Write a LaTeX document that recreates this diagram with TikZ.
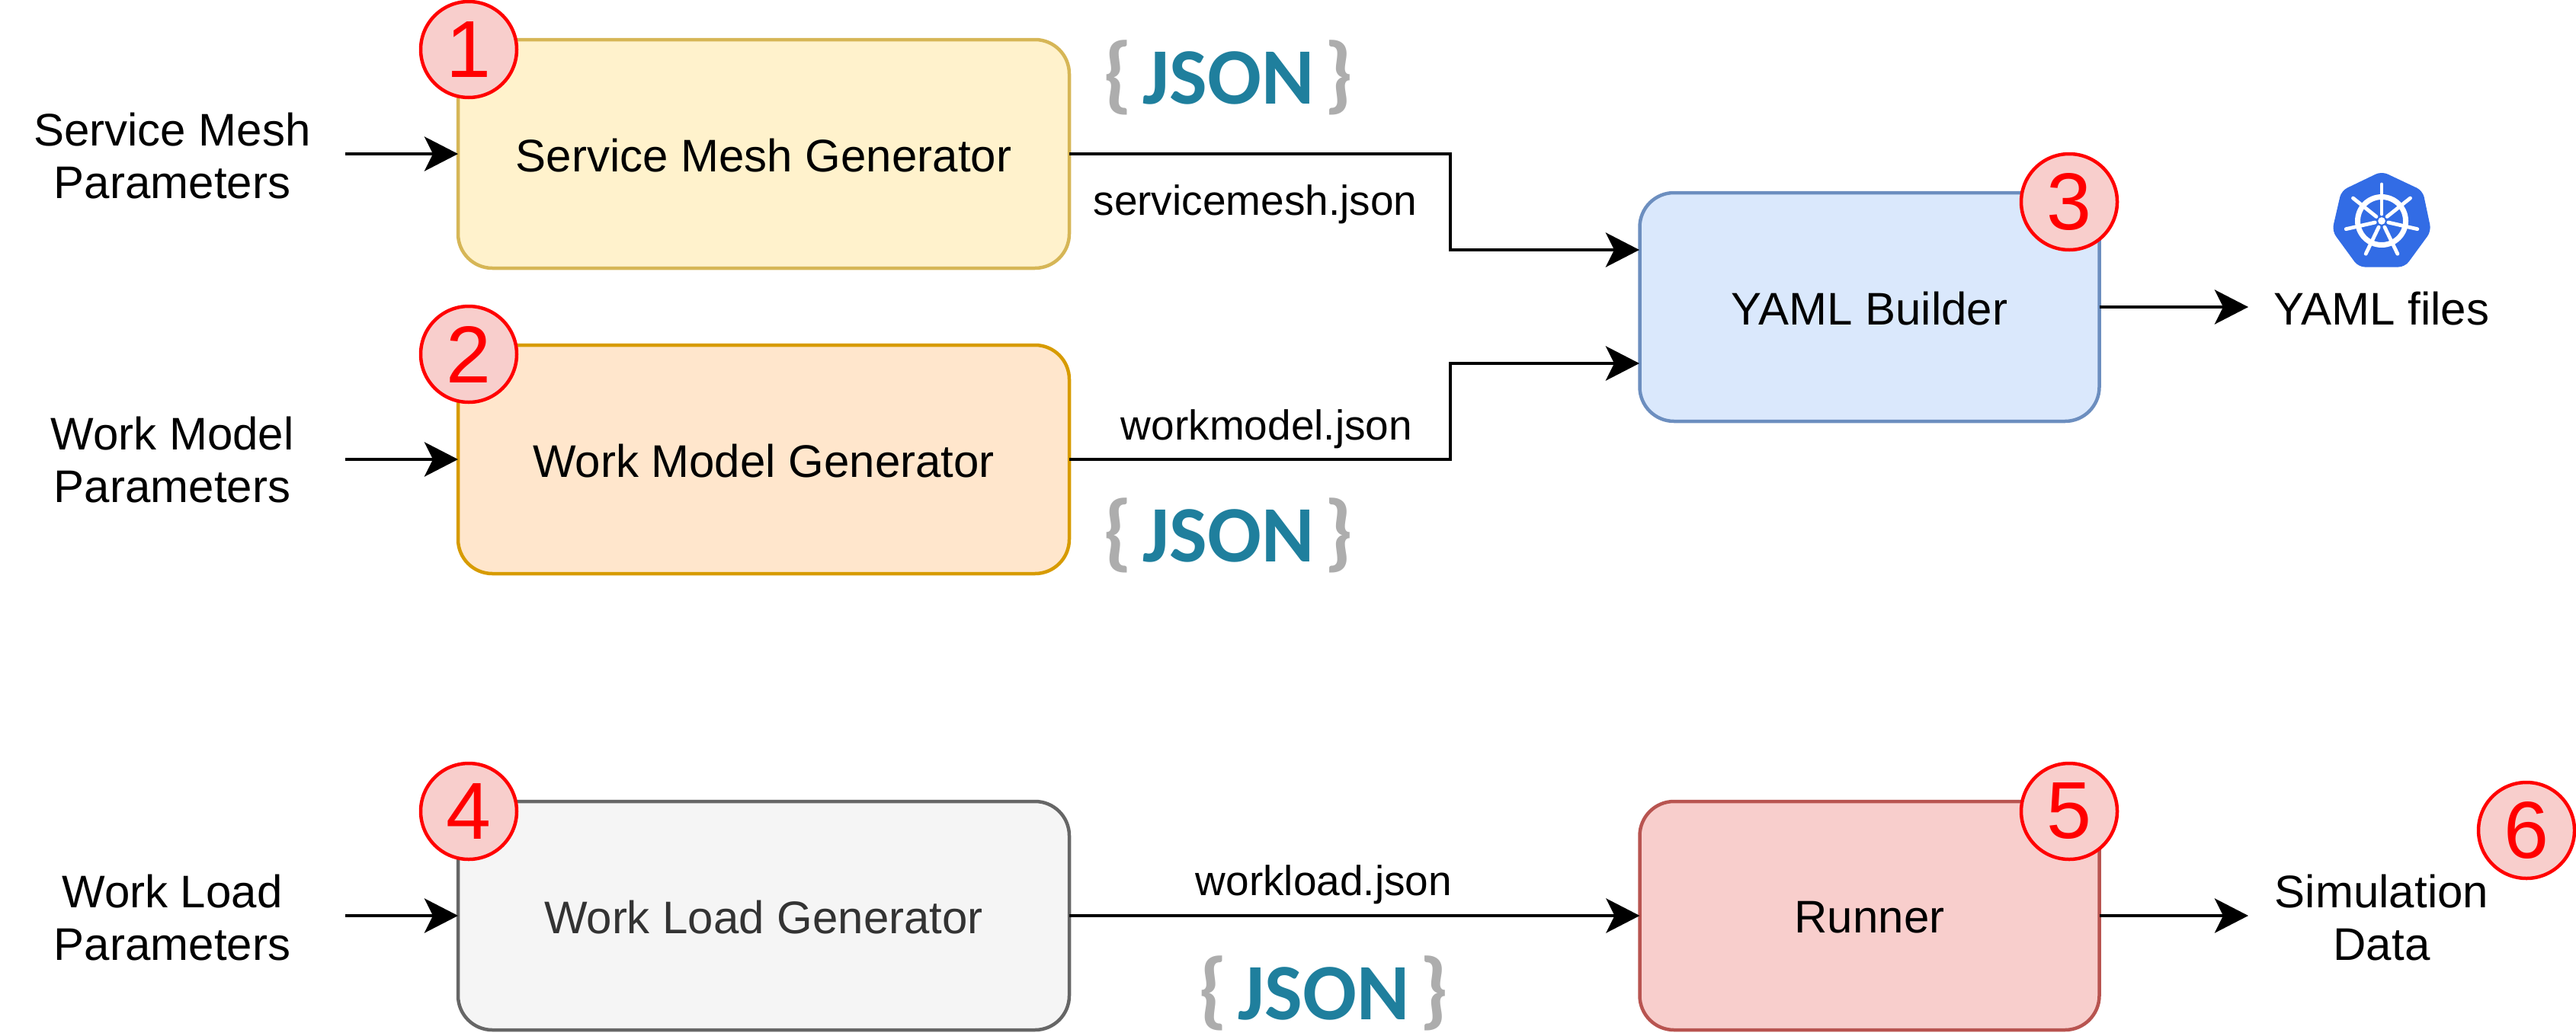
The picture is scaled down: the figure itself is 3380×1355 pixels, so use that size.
\documentclass[tikz,border=0pt]{standalone}
\usepackage{fontspec}
\setmainfont{Liberation Sans}
\newfontfamily\jsonfont{Carlito}
\usetikzlibrary{arrows.meta}
\definecolor{jsonteal}{HTML}{1F7F9D}
\definecolor{jsongray}{HTML}{ADADAD}
\definecolor{kblue}{HTML}{326CE5}
\definecolor{yfill}{HTML}{FFF2CC}\definecolor{ydraw}{HTML}{D6B656}
\definecolor{ofill}{HTML}{FFE6CC}\definecolor{odraw}{HTML}{D79B00}
\definecolor{gfill}{HTML}{F5F5F5}\definecolor{gdraw}{HTML}{666666}\definecolor{gtext}{HTML}{333333}
\definecolor{bfill}{HTML}{DAE8FC}\definecolor{bdraw}{HTML}{6C8EBF}
\definecolor{rfill}{HTML}{F8CECC}\definecolor{rdraw}{HTML}{B85450}
\newcommand{\lowered}[1]{\raisebox{0pt}[\dimexpr\height+4pt\relax]{#1}}
\tikzset{
  x=1pt,y=-1pt,
  boxbase/.style={rectangle,rounded corners=45pt,line width=4.5pt,outer sep=0pt,inner sep=0pt,
    minimum height=300pt,font=\fontsize{60}{69}\selectfont},
  wide/.style={boxbase,minimum width=802pt},
  mid/.style={boxbase,minimum width=603pt},
  yellowbox/.style={wide,fill=yfill,draw=ydraw},
  orangebox/.style={wide,fill=ofill,draw=odraw},
  graybox/.style={wide,fill=gfill,draw=gdraw,text=gtext},
  bluebox/.style={mid,fill=bfill,draw=bdraw},
  redbox/.style={mid,fill=rfill,draw=rdraw},
  badge/.style={circle,minimum size=126pt,inner sep=0pt,line width=4.5pt,draw=red,
    fill=rfill,text=red,font=\fontsize{106}{106}\selectfont},
  plain/.style={align=center,inner sep=0pt,font=\fontsize{60}{69}\selectfont},
  small/.style={inner sep=0pt,font=\fontsize{55}{60}\selectfont},
  link/.style={line width=4.5pt,-{Stealth[length=44pt,width=45pt,inset=11pt]}},
  jsonlogo/.style={inner sep=0pt,font=\jsonfont\bfseries\fontsize{105}{105}\selectfont,text=jsonteal},
  bracemark/.style={inner sep=0pt,font=\jsonfont\bfseries\fontsize{112}{112}\selectfont,text=jsongray},
  spoke/.style={line width=4.8pt,line cap=round,draw=white},
}
\begin{document}
\begin{tikzpicture}
\useasboundingbox (0,0) rectangle (3380,1355);
% boxes
\node[yellowbox] (smg) at (1002,202) {\lowered{Service Mesh Generator}};
\node[orangebox] (wmg) at (1002,603) {\lowered{Work Model Generator}};
\node[graybox]   (wlg) at (1002,1202) {\lowered{Work Load Generator}};
\node[bluebox]   (yb)  at (2453,403) {\lowered{YAML Builder}};
\node[redbox]    (run) at (2453,1202) {\lowered{Runner}};
% plain texts
\node[plain] (smp) at (226,205) {Service Mesh\\Parameters};
\node[plain] (wmp) at (226,604) {Work Model\\Parameters};
\node[plain] (wlp) at (226,1205) {Work Load\\Parameters};
\node[plain] (yf)  at (3125,405) {YAML files};
\node[plain] (sd)  at (3125,1205) {Simulation\\Data};
% connector labels
\node[small] (l1) at (1647,268) {servicemesh.json};
\node[small] (l2) at (1662,563) {workmodel.json};
\node[small] (l3) at (1737,1161) {workload.json};
% JSON marks
\node[jsonlogo] (j1) at (1612,102) {JSON};
\node[bracemark] (j1l) at (1467,102) {\{};
\node[bracemark] (j1r) at (1757,102) {\}};
\node[jsonlogo] (j2) at (1612,703) {JSON};
\node[bracemark] (j2l) at (1467,703) {\{};
\node[bracemark] (j2r) at (1757,703) {\}};
\node[jsonlogo] (j3) at (1737,1304) {JSON};
\node[bracemark] (j3l) at (1592,1304) {\{};
\node[bracemark] (j3r) at (1882,1304) {\}};
% free ends
\coordinate (a1) at (453,202);
\coordinate (a2) at (453,603);
\coordinate (a3) at (453,1202);
\coordinate (e1) at (2950,403);
\coordinate (e2) at (2950,1202);
\coordinate (yin1) at (2151,328);
\coordinate (yin2) at (2151,477);
% connectors
\draw[link] (a1) -- (smg.west);
\draw[link] (a2) -- (wmg.west);
\draw[link] (a3) -- (wlg.west);
\draw[link] (smg.east) -- (1903,202) -- (1903,328) -- (yin1);
\draw[link] (wmg.east) -- (1903,603) -- (1903,477) -- (yin2);
\draw[link] (wlg.east) -- (run.west);
\draw[link] (yb.east) -- (e1);
\draw[link] (run.east) -- (e2);
% badges
\node[badge] (b1) at (615,65) {1};
\node[badge] (b2) at (615,465) {2};
\node[badge] (b3) at (2715,265) {3};
\node[badge] (b4) at (615,1065) {4};
\node[badge] (b5) at (2715,1065) {5};
\node[badge] (b6) at (3315,1090) {6};
% kubernetes logo
\fill[kblue,draw=kblue,line width=2pt,line join=round,rounded corners=8pt]
  (3125,226) -- (3178,251) -- (3189,303) -- (3155,349.5) -- (3095,349.5) -- (3061,303) -- (3073,251) -- cycle;
\begin{scope}[shift={(3125,290)}]
  \draw[white,line width=7pt] (0,0) circle (31.5);
  \fill[white] (0,0) circle (4.8);
  \foreach \k in {0,...,6}{
    \pgfmathsetmacro{\ang}{-90+\k*360/7}
    \draw[spoke] (\ang:9) -- (\ang:48);
  }
\end{scope}
\end{tikzpicture}
\end{document}
